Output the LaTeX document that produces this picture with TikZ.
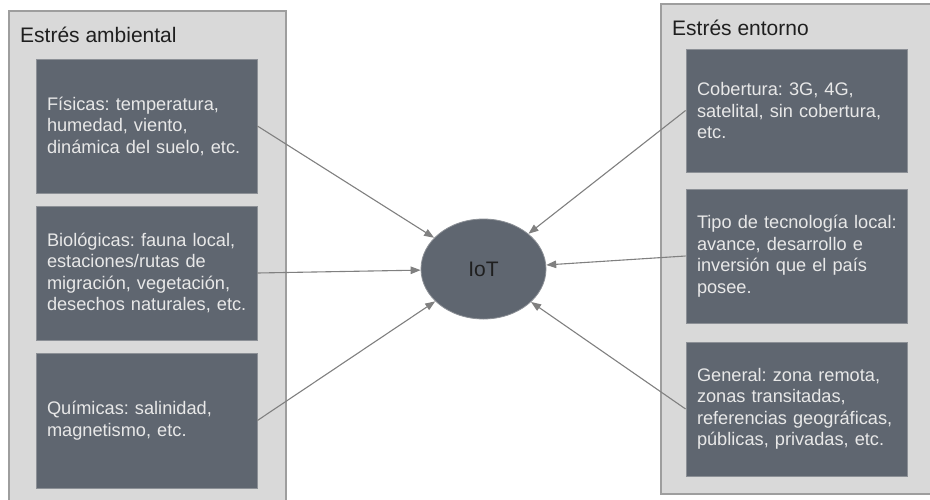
\documentclass[tikz,border=0pt]{standalone}
\usepackage{fontspec}
\setmainfont{Liberation Sans}
\usetikzlibrary{arrows.meta,shapes.geometric}

\definecolor{panelfill}{HTML}{D9D9D9}
\definecolor{paneledge}{HTML}{9E9E9E}
\definecolor{cardfill}{HTML}{5F6670}
\definecolor{cardedge}{HTML}{8C9096}
\definecolor{cardtext}{HTML}{E8E8E8}
\definecolor{linkgray}{HTML}{808080}
\definecolor{titletext}{HTML}{1F1F1F}

% one unbreakable line of card text
\newcommand{\cardln}[1]{\mbox{#1}}

\tikzset{
  panel/.style={draw=paneledge, fill=panelfill, line width=1.2pt},
  paneltitle/.style={anchor=base west, inner sep=0pt, text=titletext,
    font=\fontsize{21}{24}\selectfont},
  card/.style={draw=cardedge, fill=cardfill, line width=0.8pt, rectangle,
    minimum width=221pt, text width=199pt, inner xsep=11pt, align=left,
    text=cardtext, font=\fontsize{18.2}{21.5}\selectfont\frenchspacing},
  hub/.style={ellipse, draw=cardedge, fill=cardfill, line width=0.8pt,
    minimum width=125pt, minimum height=100pt, text=titletext,
    font=\fontsize{21}{24}\selectfont},
  link/.style={draw=linkgray, line width=1.1pt,
    -{Triangle[length=10pt,width=7.5pt]}}
}

\begin{document}
\begin{tikzpicture}[x=1pt,y=-1pt]
  \useasboundingbox (0,0) rectangle (930,499);
  \clip (0,0) rectangle (930,499);
  \fill[white] (0,0) rectangle (930,499);

  % outer panels
  \draw[panel] (9,11) rectangle (286,510);
  \draw[panel] (661,4) rectangle (945,494);
  \node[paneltitle] (tleft) at (20,42.5) {Estrés ambiental};
  \node[paneltitle] (tright) at (672,35) {Estrés entorno};

  % environmental stress cards
  \node[card, minimum height=134pt] (fis) at (146.5,126)
    {\cardln{Físicas: temperatura,}\\\cardln{humedad, viento,}\\\cardln{dinámica del suelo, etc.}};
  \node[card, minimum height=134pt] (bio) at (146.5,273)
    {\cardln{Biológicas: fauna local,}\\\cardln{estaciones/rutas de}\\\cardln{migración, vegetación,}\\\cardln{desechos naturales, etc.}};
  \node[card, minimum height=135pt] (qui) at (146.5,420.5)
    {\cardln{Químicas: salinidad,}\\\cardln{magnetismo, etc.}};

  % surrounding stress cards
  \node[card, minimum height=123pt] (cob) at (796.5,110.5)
    {\cardln{Cobertura: 3G, 4G,}\\\cardln{satelital, sin cobertura,}\\\cardln{etc.}};
  \node[card, minimum height=134pt] (tec) at (796.5,256)
    {\cardln{Tipo de tecnología local:}\\\cardln{avance, desarrollo e}\\\cardln{inversión que el país}\\\cardln{posee.}};
  \node[card, minimum height=134pt] (gen) at (796.5,409)
    {\cardln{General: zona remota,}\\\cardln{zonas transitadas,}\\\cardln{referencias geográficas,}\\\cardln{públicas, privadas, etc.}};

  % central node
  \node[hub] (iot) at (483.5,269) {IoT};

  % connectors
  \draw[link] (fis.east) -- (iot);
  \draw[link] (bio.east) -- (iot);
  \draw[link] (qui.east) -- (iot);
  \draw[link] (cob.west) -- (iot);
  \draw[link] (tec.west) -- (iot);
  \draw[link] (gen.west) -- (iot);
\end{tikzpicture}
\end{document}
